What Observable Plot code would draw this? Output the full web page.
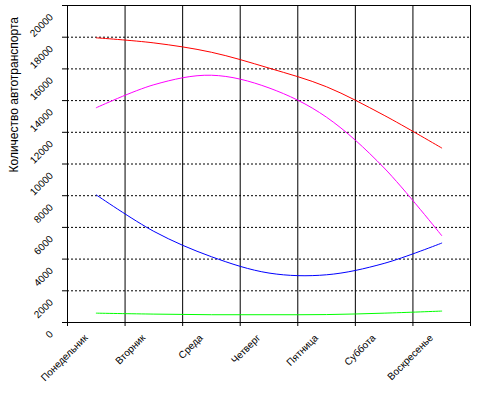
<!DOCTYPE html>
<html>
<head>
<meta charset="utf-8">
<script src="https://cdn.jsdelivr.net/npm/d3@7"></script>
<script src="https://cdn.jsdelivr.net/npm/@observablehq/plot@0.6"></script>
<style>
  html, body { margin: 0; padding: 0; background: #fff; }
  #chart svg { display: block; }
</style>
</head>
<body>
<div id="chart"></div>
<script>
const days = ["Понедельник", "Вторник", "Среда", "Четверг", "Пятница", "Суббота", "Воскресенье"];
const seriesRed = [17960, 17640, 17050, 16050, 14870, 13070, 11010];
const seriesMagenta = [13550, 15000, 15600, 14800, 12950, 9750, 5480];
const seriesBlue = [8050, 5750, 4150, 3120, 3010, 3730, 5010];
const seriesGreen = [590, 530, 490, 490, 500, 590, 720];
const yTicks = [0, 2000, 4000, 6000, 8000, 10000, 12000, 14000, 16000, 18000, 20000];
const yGrid = [2000, 4000, 6000, 8000, 10000, 12000, 14000, 16000, 18000];
const yTitle = "Количество автотранспорта";

const boundaries = d3.range(0, days.length + 1);
const toRows = (vals) => vals.map((v, i) => ({x: i + 0.5, y: v}));

const font = "'Liberation Sans', Arial, sans-serif";

const chart = Plot.plot({
  width: 485,
  height: 396,
  marginLeft: 67,
  marginRight: 15,
  marginTop: 5,
  marginBottom: 74,
  x: {domain: [0, days.length], axis: null},
  y: {domain: [0, 20000], axis: null},
  style: {fontFamily: font, background: "#fff", color: "#000"},
  marks: [
    Plot.ruleY(yGrid, {stroke: "#000", strokeDasharray: "2,2", strokeWidth: 1}),
    Plot.ruleX(boundaries, {stroke: "#000", strokeWidth: 1}),
    Plot.ruleY([0, 20000], {stroke: "#000", strokeWidth: 1}),
    Plot.axisY({ticks: yTicks, tickSize: 5, tickFormat: () => "", label: null, stroke: "#000"}),
    Plot.axisX({ticks: boundaries, tickSize: 4, tickFormat: () => "", label: null, stroke: "#000"}),
    Plot.text(yTicks, {y: d => d, text: d => String(d), frameAnchor: "left", textAnchor: "end", rotate: -45, dx: -16, dy: 10, fontSize: 10, fill: "#000"}),
    Plot.text(days, {x: (d, i) => i + 0.5, text: d => d, frameAnchor: "bottom", textAnchor: "end", rotate: -45, dx: -8, dy: 16, fontSize: 10, fill: "#000"}),
    Plot.text([yTitle], {text: d => d, frameAnchor: "left", rotate: -90, dx: -53, dy: 8.5, fontSize: 12, fill: "#000"}),
    Plot.line(toRows(seriesRed), {x: "x", y: "y", stroke: "#ff0000", strokeWidth: 1, curve: "cardinal"}),
    Plot.line(toRows(seriesMagenta), {x: "x", y: "y", stroke: "#ff00ff", strokeWidth: 1, curve: "cardinal"}),
    Plot.line(toRows(seriesBlue), {x: "x", y: "y", stroke: "#0000ff", strokeWidth: 1, curve: "cardinal"}),
    Plot.line(toRows(seriesGreen), {x: "x", y: "y", stroke: "#00ff00", strokeWidth: 1, curve: "cardinal"})
  ]
});
document.getElementById("chart").appendChild(chart);
</script>
</body>
</html>
